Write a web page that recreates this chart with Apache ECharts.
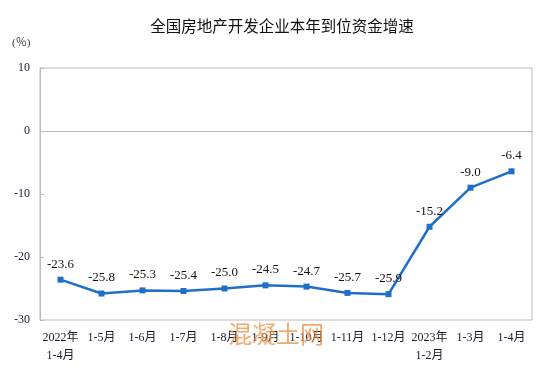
<!DOCTYPE html>
<html><head><meta charset="utf-8">
<script src="https://cdn.jsdelivr.net/npm/echarts@6/dist/echarts.min.js"></script>
<style>html,body{margin:0;padding:0;background:#fff}#c{width:554px;height:380px}</style>
</head><body><div id="c"></div>
<script>
var categories = ['2022年\n1-4月','1-5月','1-6月','1-7月','1-8月','1-9月','1-10月','1-11月','1-12月','2023年\n1-2月','1-3月','1-4月'];
var growth = [-23.6,-25.8,-25.3,-25.4,-25.0,-24.5,-24.7,-25.7,-25.9,-15.2,-9.0,-6.4];
var yTicks = [-30,-20,-10,0,10];

var chart = echarts.init(document.getElementById('c'));
var serif = '"Liberation Serif","Noto Sans CJK SC",serif';
chart.setOption({
  animation:false,
  title:{text:'全国房地产开发企业本年到位资金增速',left:277,textAlign:'center',top:13,
    textStyle:{fontSize:15.5,fontWeight:'normal',color:'#111',fontFamily:'"Noto Sans CJK SC",sans-serif'}},
  graphic:[
    {type:'text',left:12,top:38,style:{text:'(％)',fontSize:11,fill:'#333',fontFamily:serif}},
    {type:'text',left:228,top:322,z:100,style:{text:'混凝土网',fontSize:24,fill:'rgba(240,140,60,0.75)',fontFamily:'"Noto Sans CJK SC",sans-serif'}}
  ],
  grid:{left:40,right:22,top:68,bottom:60,show:true,borderColor:'#bbb',borderWidth:1},
  xAxis:{type:'category',data:categories,boundaryGap:true,
    axisLine:{lineStyle:{color:'#bbb'}},
    axisTick:{inside:true,length:5,lineStyle:{color:'#bbb'}},
    axisLabel:{color:'#1a1a30',fontSize:12,fontFamily:serif,margin:9,lineHeight:18,interval:0}},
  yAxis:{type:'value',min:-30,max:10,interval:10,
    axisLine:{show:true,lineStyle:{color:'#bbb'}},
    axisTick:{show:true,inside:true,length:4,lineStyle:{color:'#bbb'}},
    splitLine:{show:false},
    axisLabel:{color:'#1a1a40',fontSize:12,fontFamily:serif,margin:10}},
  series:[{type:'line',data:growth,symbol:'rect',symbolSize:6,
    lineStyle:{color:'#1f6fc9',width:2.5},itemStyle:{color:'#1f6fc9'},
    label:{show:true,position:'top',distance:6,color:'#111',fontSize:13,fontFamily:serif,
      formatter:function(p){return p.value.toFixed(1);}}}]
});
</script></body></html>
